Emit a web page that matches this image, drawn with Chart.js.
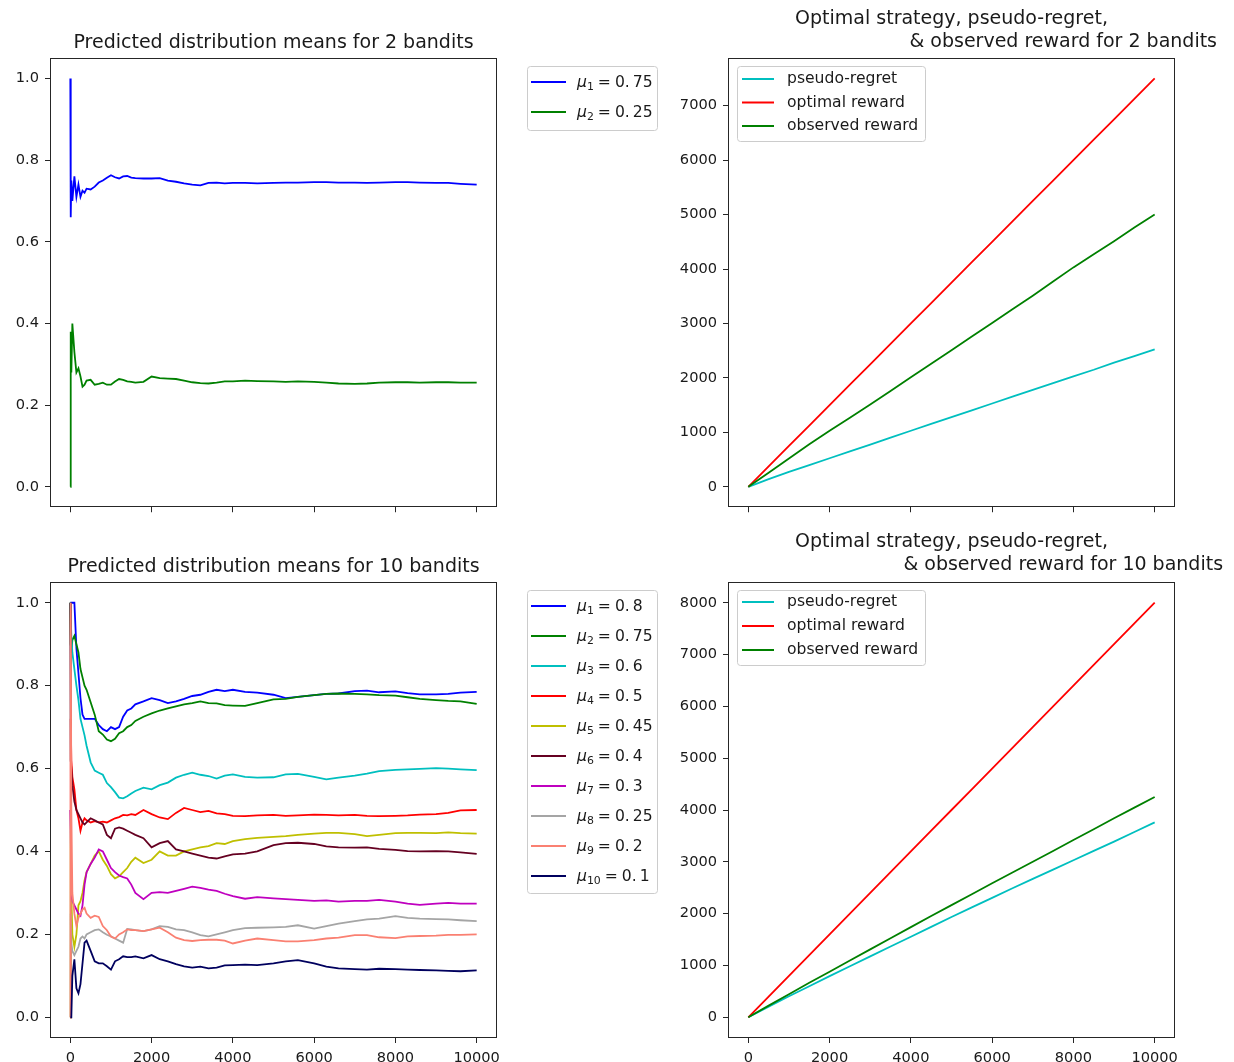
<!DOCTYPE html>
<html>
<head>
<meta charset="utf-8">
<title>Bandit experiments</title>
<script src="https://cdn.jsdelivr.net/npm/chart.js@4.4.1/dist/chart.umd.min.js"></script>
<style>
  html, body { margin: 0; padding: 0; background: #ffffff; }
  #fig { position: relative; width: 1234px; height: 1062px; overflow: hidden; }
  #fig canvas { position: absolute; }
</style>
</head>
<body>
<div id="fig">
  <canvas id="means2" width="680" height="522" style="left:0;top:0"></canvas>
  <canvas id="reward2" width="554" height="522" style="left:680px;top:0"></canvas>
  <canvas id="means10" width="680" height="540" style="left:0;top:522px"></canvas>
  <canvas id="reward10" width="554" height="540" style="left:680px;top:522px"></canvas>
</div>
<script>
// ---- time steps at which the running estimates are sampled ----
const steps = [0, 10, 25, 50, 100, 150, 200, 250, 300, 350, 400, 500, 600, 700, 800, 900,
  1000, 1100, 1200, 1300, 1400, 1500, 1600, 1800, 2000, 2200, 2400, 2600, 2800, 3000,
  3200, 3400, 3600, 3800, 4000, 4300, 4600, 5000, 5300, 5600, 6000, 6300, 6600, 7000,
  7300, 7600, 8000, 8300, 8600, 9000, 9300, 9600, 10000];

// ---- 2-armed experiment: true means and estimated means ----
const means2 = [0.75, 0.25];
const est2Arm1 = [1.0, 0.66, 0.75, 0.70, 0.76, 0.71, 0.74, 0.71, 0.725, 0.72, 0.73, 0.728, 0.735, 0.745, 0.75, 0.757,
  0.763, 0.758, 0.755, 0.76, 0.761, 0.757, 0.756, 0.755, 0.755, 0.756, 0.75, 0.747, 0.743, 0.74,
  0.738, 0.744, 0.745, 0.743, 0.744, 0.744, 0.743, 0.744, 0.745, 0.745, 0.746, 0.746, 0.745, 0.745,
  0.744, 0.745, 0.746, 0.746, 0.745, 0.744, 0.744, 0.742, 0.74];
const est2Arm2 = [0.0, 0.38, 0.28, 0.40, 0.33, 0.28, 0.29, 0.27, 0.245, 0.25, 0.26, 0.262, 0.25, 0.252, 0.255, 0.25,
  0.25, 0.258, 0.264, 0.262, 0.258, 0.257, 0.255, 0.257, 0.27, 0.266, 0.265, 0.264, 0.26, 0.256,
  0.254, 0.253, 0.255, 0.258, 0.258, 0.26, 0.259, 0.258, 0.257, 0.258, 0.257, 0.255, 0.253, 0.252,
  0.253, 0.255, 0.256, 0.256, 0.255, 0.256, 0.256, 0.255, 0.255];

// ---- 10-armed experiment: true means and estimated means ----
const means10 = [0.8, 0.75, 0.6, 0.5, 0.45, 0.4, 0.3, 0.25, 0.2, 0.1];
const est10Arm1 = [1.0, 1.0, 1.0, 1.0, 1.0, 0.89, 0.83, 0.77, 0.73, 0.72, 0.72, 0.72, 0.72, 0.705, 0.695, 0.69,
  0.70, 0.695, 0.70, 0.725, 0.74, 0.745, 0.755, 0.762, 0.77, 0.765, 0.758, 0.762, 0.768, 0.775,
  0.778, 0.785, 0.79, 0.787, 0.79, 0.785, 0.783, 0.778, 0.77, 0.773, 0.777, 0.78, 0.781, 0.787,
  0.788, 0.784, 0.786, 0.782, 0.779, 0.779, 0.78, 0.783, 0.785];
const est10Arm2 = [1.0, 0.90, 0.88, 0.91, 0.92, 0.90, 0.88, 0.84, 0.82, 0.80, 0.79, 0.76, 0.73, 0.69, 0.682, 0.67,
  0.666, 0.672, 0.685, 0.69, 0.70, 0.705, 0.715, 0.725, 0.733, 0.74, 0.745, 0.75, 0.755, 0.758,
  0.762, 0.758, 0.757, 0.753, 0.752, 0.751, 0.758, 0.767, 0.768, 0.773, 0.777, 0.78, 0.781, 0.78,
  0.779, 0.777, 0.776, 0.772, 0.768, 0.765, 0.763, 0.762, 0.756];
const est10Arm3 = [1.0, 1.0, 0.92, 0.88, 0.84, 0.80, 0.765, 0.72, 0.70, 0.68, 0.655, 0.615, 0.595, 0.59, 0.585, 0.565,
  0.555, 0.543, 0.53, 0.528, 0.533, 0.54, 0.546, 0.554, 0.55, 0.56, 0.566, 0.578, 0.585, 0.59,
  0.585, 0.582, 0.576, 0.583, 0.586, 0.58, 0.578, 0.579, 0.586, 0.587, 0.58, 0.574, 0.578, 0.583,
  0.588, 0.594, 0.597, 0.598, 0.599, 0.601, 0.6, 0.598, 0.596];
const est10Arm4 = [0.0, 0.72, 0.62, 0.58, 0.55, 0.50, 0.48, 0.45, 0.47, 0.48, 0.475, 0.47, 0.473, 0.47, 0.472, 0.47,
  0.475, 0.48, 0.483, 0.488, 0.487, 0.49, 0.488, 0.5, 0.49, 0.482, 0.478, 0.493, 0.505, 0.5,
  0.495, 0.498, 0.492, 0.49, 0.486, 0.485, 0.487, 0.488, 0.486, 0.487, 0.489, 0.488, 0.487, 0.488,
  0.486, 0.485, 0.486, 0.487, 0.489, 0.49, 0.493, 0.499, 0.5];
const est10Arm5 = [0.0, 0.5, 0.3, 0.2, 0.17, 0.20, 0.27, 0.28, 0.30, 0.33, 0.35, 0.37, 0.39, 0.40, 0.38, 0.365,
  0.345, 0.335, 0.34, 0.35, 0.36, 0.375, 0.385, 0.372, 0.38, 0.40, 0.39, 0.39, 0.40, 0.405,
  0.41, 0.413, 0.42, 0.418, 0.425, 0.43, 0.433, 0.435, 0.437, 0.44, 0.443, 0.445, 0.445, 0.442,
  0.437, 0.44, 0.444, 0.445, 0.445, 0.444, 0.446, 0.444, 0.443];
const est10Arm6 = [1.0, 0.62, 0.60, 0.56, 0.52, 0.50, 0.49, 0.48, 0.47, 0.465, 0.47, 0.48, 0.475, 0.47, 0.465, 0.44,
  0.432, 0.455, 0.458, 0.455, 0.45, 0.445, 0.44, 0.432, 0.41, 0.42, 0.425, 0.405, 0.40, 0.395,
  0.39, 0.385, 0.383, 0.388, 0.393, 0.395, 0.40, 0.415, 0.42, 0.421, 0.418, 0.412, 0.41, 0.409,
  0.41, 0.406, 0.404, 0.401, 0.40, 0.401, 0.40, 0.398, 0.394];
const est10Arm7 = [0.5, 0.45, 0.30, 0.28, 0.27, 0.26, 0.25, 0.245, 0.27, 0.32, 0.35, 0.37, 0.385, 0.405, 0.40, 0.38,
  0.36, 0.35, 0.342, 0.338, 0.335, 0.32, 0.30, 0.285, 0.30, 0.302, 0.30, 0.305, 0.31, 0.315,
  0.312, 0.308, 0.305, 0.298, 0.292, 0.286, 0.29, 0.287, 0.285, 0.283, 0.281, 0.282, 0.279, 0.281,
  0.281, 0.283, 0.279, 0.274, 0.271, 0.274, 0.276, 0.274, 0.274];
const est10Arm8 = [0.0, 0.25, 0.18, 0.16, 0.15, 0.16, 0.17, 0.19, 0.195, 0.19, 0.20, 0.205, 0.21, 0.212, 0.205, 0.199,
  0.195, 0.19, 0.185, 0.18, 0.213, 0.212, 0.21, 0.208, 0.212, 0.22, 0.218, 0.212, 0.21, 0.205,
  0.198, 0.195, 0.2, 0.205, 0.21, 0.215, 0.216, 0.217, 0.218, 0.222, 0.214, 0.22, 0.226, 0.232,
  0.236, 0.238, 0.244, 0.24, 0.238, 0.237, 0.236, 0.234, 0.232];
const est10Arm9 = [0.0, 1.0, 0.5, 0.3, 0.25, 0.22, 0.24, 0.25, 0.26, 0.264, 0.25, 0.24, 0.245, 0.242, 0.22, 0.21,
  0.195, 0.19, 0.20, 0.205, 0.212, 0.21, 0.21, 0.208, 0.212, 0.216, 0.205, 0.192, 0.186, 0.184,
  0.186, 0.187, 0.187, 0.185, 0.178, 0.185, 0.19, 0.186, 0.183, 0.183, 0.186, 0.19, 0.192, 0.198,
  0.198, 0.193, 0.191, 0.195, 0.196, 0.197, 0.199, 0.199, 0.2];
const est10Arm10 = [0.0, 0.0, 0.0, 0.10, 0.14, 0.07, 0.058, 0.08, 0.13, 0.18, 0.185, 0.16, 0.135, 0.13, 0.13, 0.123,
  0.115, 0.135, 0.14, 0.147, 0.145, 0.145, 0.147, 0.142, 0.15, 0.14, 0.135, 0.128, 0.123, 0.12,
  0.122, 0.118, 0.12, 0.125, 0.126, 0.127, 0.126, 0.13, 0.135, 0.138, 0.13, 0.122, 0.118, 0.116,
  0.115, 0.117, 0.116, 0.115, 0.114, 0.113, 0.112, 0.111, 0.113];

// ---- cumulative totals ----
const cumSteps = [0, 500, 1000, 1500, 2000, 2500, 3000, 3500, 4000, 4500, 5000,
  5500, 6000, 6500, 7000, 7500, 8000, 8500, 9000, 9500, 10000];
const regret2 = [0, 140, 275, 400, 525, 650, 775, 905, 1030, 1155, 1280, 1405, 1530, 1655, 1780, 1905, 2030, 2150, 2280, 2400, 2525];
const optimal2 = [0, 375, 750, 1125, 1500, 1875, 2250, 2625, 3000, 3375, 3750, 4125, 4500, 4875, 5250, 5625, 6000, 6375, 6750, 7125, 7500];
const observed2 = [0, 260, 520, 780, 1030, 1270, 1510, 1760, 2010, 2260, 2510, 2760, 3010, 3260, 3510, 3770, 4030, 4270, 4510, 4760, 5000];
const regret10 = [0, 205, 405, 600, 795, 985, 1175, 1365, 1555, 1745, 1935, 2120, 2305, 2490, 2670, 2850, 3030, 3210, 3390, 3575, 3760];
const optimal10 = [0, 400, 800, 1200, 1600, 2000, 2400, 2800, 3200, 3600, 4000, 4400, 4800, 5200, 5600, 6000, 6400, 6800, 7200, 7600, 8000];
const observed10 = [0, 225, 445, 665, 880, 1095, 1310, 1525, 1740, 1955, 2165, 2375, 2585, 2795, 3000, 3210, 3420, 3630, 3840, 4045, 4250];

// ---- tick positions ----
const stepTicks = [0, 2000, 4000, 6000, 8000, 10000];
const meanTicks = [0.0, 0.2, 0.4, 0.6, 0.8, 1.0];
const rewardTicks2 = [0, 1000, 2000, 3000, 4000, 5000, 6000, 7000];
const rewardTicks10 = [0, 1000, 2000, 3000, 4000, 5000, 6000, 7000, 8000];
const rewardLabels = ['pseudo-regret', 'optimal reward', 'observed reward'];

// ---- styling ----
const FONT = '"DejaVu Sans"';
const TICK_SIZE = 14.6;
const LEGEND_SIZE = 15.6;
const TITLE_SIZE = 19;
const INK = '#1a1a1a';
const armColors2 = ['#0000ff', '#008000'];
const armColors10 = ['#0000ff', '#008000', '#00bfbf', '#ff0000', '#bfbf00',
  '#650021', '#bf00bf', '#a5a5a5', '#fa8072', '#00005e'];
const rewardColors = ['#00bfbf', '#ff0000', '#008000'];

Chart.defaults.font.family = FONT;
Chart.defaults.color = INK;
Chart.defaults.animation = false;

const toPoints = (xs, ys) => xs.map((x, i) => ({ x: x, y: ys[i] }));
const SUBSCRIPTS = '₀₁₂₃₄₅₆₇₈₉';
const subscript = n => String(n).split('').map(d => SUBSCRIPTS[+d]).join('');

// Square frame around the plotting area
const framePlugin = {
  id: 'axesFrame',
  afterDatasetsDraw(chart) {
    const a = chart.chartArea, ctx = chart.ctx;
    ctx.save();
    ctx.strokeStyle = '#262626';
    ctx.lineWidth = 1;
    const l = Math.round(a.left) + 0.5, t = Math.round(a.top) + 0.5;
    const r = Math.round(a.right) - 0.5, b = Math.round(a.bottom) - 0.5;
    ctx.strokeRect(l, t, r - l, b - t);
    ctx.restore();
  }
};

// Let the title run wider than the plotting area while staying centred on it,
// so an indented second line is not squeezed.
const wideTitlePlugin = {
  id: 'wideTitle',
  afterLayout(chart) {
    const tb = chart.titleBlock;
    if (tb) { tb.left -= 200; tb.right += 200; }
  }
};

// Boxed legend with line handles; arm labels are typeset as mu with a subscript
const boxLegendPlugin = {
  id: 'boxLegend',
  afterDraw(chart, args, o) {
    const a = chart.chartArea, ctx = chart.ctx;
    const left = Math.round((o.outside ? a.right : a.left) + o.dx);
    const top = Math.round(a.top + o.dy);
    ctx.save();
    ctx.beginPath();
    ctx.roundRect(left + 0.5, top + 0.5, o.width, o.height, 3);
    ctx.fillStyle = 'rgba(255,255,255,0.8)';
    ctx.fill();
    ctx.strokeStyle = '#cccccc';
    ctx.lineWidth = 1;
    ctx.stroke();
    ctx.textBaseline = 'middle';
    ctx.textAlign = 'left';
    ctx.fillStyle = INK;
    chart.data.datasets.forEach((ds, i) => {
      const y = top + o.firstRow + i * o.rowGap;
      ctx.strokeStyle = ds.borderColor;
      ctx.lineWidth = 2;
      ctx.beginPath();
      ctx.moveTo(left + o.lineFrom, y);
      ctx.lineTo(left + o.lineTo, y);
      ctx.stroke();
      let x = left + o.textX;
      if (ds.armIndex) {
        ctx.font = 'italic ' + LEGEND_SIZE + 'px ' + FONT;
        ctx.fillText('μ', x, y + 1);
        x += ctx.measureText('μ').width;
        ctx.font = (LEGEND_SIZE * 0.7) + 'px ' + FONT;
        const idx = String(ds.armIndex);
        ctx.fillText(idx, x, y + 5);
        x += ctx.measureText(idx).width + 4;
        ctx.font = LEGEND_SIZE + 'px ' + FONT;
        ctx.fillText('=', x, y + 1);
        x += ctx.measureText('=').width + 4;
        const parts = String(ds.armMean).split('.');
        ctx.fillText(parts[0] + '.', x, y + 1);
        x += ctx.measureText(parts[0] + '.').width + 3;
        ctx.fillText(parts[1], x, y + 1);
      } else {
        ctx.font = LEGEND_SIZE + 'px ' + FONT;
        ctx.fillText(ds.label, x, y);
      }
    });
    ctx.restore();
  }
};

function linearAxis(min, max, tickValues, format, showLabels, size) {
  return {
    type: 'linear',
    min: min,
    max: max,
    afterBuildTicks: scale => { scale.ticks = tickValues.map(v => ({ value: v })); },
    afterFit: scale => {
      if (scale.isHorizontal()) scale.height = size; else scale.width = size;
    },
    ticks: {
      callback: v => showLabels ? format(v) : '',
      font: { family: FONT, size: TICK_SIZE },
      color: INK,
      padding: 6,
      maxRotation: 0,
      autoSkip: false
    },
    grid: {
      display: true,
      drawOnChartArea: false,
      drawTicks: true,
      tickLength: 5,
      tickWidth: 1,
      color: '#262626'
    },
    border: { display: false }
  };
}

function armDatasets(means, series, colors) {
  return series.map((ys, i) => ({
    label: 'μ' + subscript(i + 1) + ' = ' + means[i],
    armIndex: i + 1,
    armMean: means[i],
    data: toPoints(steps, ys),
    borderColor: colors[i],
    borderWidth: 1.8,
    pointRadius: 0,
    fill: false,
    tension: 0,
    order: series.length - i
  }));
}

function rewardDatasets(series) {
  return series.map((ys, i) => ({
    label: rewardLabels[i],
    data: toPoints(cumSteps, ys),
    borderColor: rewardColors[i],
    borderWidth: 1.8,
    pointRadius: 0,
    fill: false,
    tension: 0,
    order: series.length - i
  }));
}

function titleBlock(lines, top, bottom, lineHeight) {
  return {
    display: true,
    text: lines,
    fullSize: false,
    color: INK,
    font: { family: FONT, size: TITLE_SIZE, weight: 'normal', lineHeight: lineHeight / TITLE_SIZE },
    padding: { top: top, bottom: bottom }
  };
}

function makeChart(id, cfg) {
  return new Chart(document.getElementById(id), {
    type: 'line',
    data: { datasets: cfg.datasets },
    options: {
      responsive: false,
      devicePixelRatio: 1,
      animation: false,
      layout: { padding: { left: 0, top: 0, bottom: 0, right: cfg.padRight } },
      scales: { x: cfg.x, y: cfg.y },
      plugins: {
        legend: { display: false },
        tooltip: { enabled: false },
        title: cfg.title,
        boxLegend: cfg.legend
      }
    },
    plugins: [framePlugin, wideTitlePlugin, boxLegendPlugin]
  });
}

const fmtMean = v => v.toFixed(1);
const fmtInt = v => String(v);
const secondLineIndent = '\u00A0'.repeat(37);

makeChart('means2', {
  datasets: armDatasets(means2, [est2Arm1, est2Arm2], armColors2),
  padRight: 183,
  x: linearAxis(-500, 10500, stepTicks, fmtInt, false, 7),
  y: linearAxis(-0.05, 1.05, meanTicks, fmtMean, true, 50),
  title: titleBlock('Predicted distribution means for 2 bandits', 33, 5, 20),
  legend: { outside: true, dx: 30, dy: 8, width: 130, height: 64, firstRow: 16, rowGap: 30,
            lineFrom: 4, lineTo: 39, textX: 50 }
});

makeChart('reward2', {
  datasets: rewardDatasets([regret2, optimal2, observed2]),
  padRight: 59,
  x: linearAxis(-500, 10500, stepTicks, fmtInt, false, 7),
  y: linearAxis(-375, 7875, rewardTicks2, fmtInt, true, 48),
  title: titleBlock(['Optimal strategy, pseudo-regret,', secondLineIndent + '& observed reward for 2 bandits'], 8, 4, 23),
  legend: { outside: false, dx: 9, dy: 8, width: 188, height: 75, firstRow: 13, rowGap: 23.5,
            lineFrom: 5, lineTo: 37, textX: 50 }
});

makeChart('means10', {
  datasets: armDatasets(means10, [est10Arm1, est10Arm2, est10Arm3, est10Arm4, est10Arm5,
    est10Arm6, est10Arm7, est10Arm8, est10Arm9, est10Arm10], armColors10),
  padRight: 183,
  x: linearAxis(-500, 10500, stepTicks, fmtInt, true, 24),
  y: linearAxis(-0.05, 1.05, meanTicks, fmtMean, true, 50),
  title: titleBlock('Predicted distribution means for 10 bandits', 35, 5, 20),
  legend: { outside: true, dx: 30, dy: 8, width: 130, height: 303, firstRow: 16, rowGap: 30,
            lineFrom: 4, lineTo: 39, textX: 50 }
});

makeChart('reward10', {
  datasets: rewardDatasets([regret10, optimal10, observed10]),
  padRight: 59,
  x: linearAxis(-500, 10500, stepTicks, fmtInt, true, 24),
  y: linearAxis(-400, 8400, rewardTicks10, fmtInt, true, 48),
  title: titleBlock(['Optimal strategy, pseudo-regret,', secondLineIndent + '& observed reward for 10 bandits'], 9, 5, 23),
  legend: { outside: false, dx: 9, dy: 8, width: 188, height: 75, firstRow: 12, rowGap: 24,
            lineFrom: 5, lineTo: 37, textX: 50 }
});
</script>
</body>
</html>
